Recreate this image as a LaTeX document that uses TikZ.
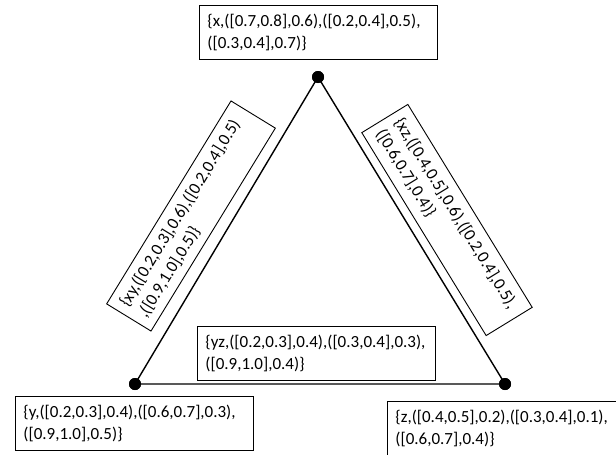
\documentclass[tikz,border=0pt]{standalone}
\usepackage{fontspec}
\setmainfont{Carlito}
\begin{document}
\begin{tikzpicture}[x=1pt,y=-1pt,
  lbl/.style={draw, line width=0.9pt, align=left, text width=222pt, inner xsep=8pt, inner ysep=0pt,
    minimum height=54pt, font=\fontsize{17}{21.5}\selectfont},
  vtx/.style={circle, fill=black, inner sep=0pt, minimum size=12pt},
  edgeline/.style={line width=1.4pt}]
\clip (0,0) rectangle (616,455);
\fill[white] (0,0) rectangle (616,455);
% vertices
\node[vtx] (X) at (318,77) {};
\node[vtx] (Y) at (135,384) {};
\node[vtx] (Z) at (505,384) {};
\draw[edgeline] (X.center) -- (Y.center) -- (Z.center) -- cycle;
\node[vtx] at (X) {};
\node[vtx] at (Y) {};
\node[vtx] at (Z) {};
% labels
\node[lbl, anchor=north west] (xbox) at (199,5) {\{x,([0.7,0.8],0.6),([0.2,0.4],0.5),\\([0.3,0.4],0.7)\}};
\node[lbl, anchor=north west] (yzbox) at (197,326) {\{yz,([0.2,0.3],0.4),([0.3,0.4],0.3),\\([0.9,1.0],0.4)\}};
\node[lbl, anchor=north west] (ybox) at (15,396) {\{y,([0.2,0.3],0.4),([0.6,0.7],0.3),\\([0.9,1.0],0.5)\}};
\node[lbl, anchor=north west] (zbox) at (387,401) {\{z,([0.4,0.5],0.2),([0.3,0.4],0.1),\\([0.6,0.7],0.4)\}};
\node[lbl, rotate=58.5, minimum height=52pt] (xybox) at (191,216) {\{xy,([0.2,0.3],0.6),([0.2,0.4],0.5)\\,([0.9,1.0],0.5)\}};
\node[lbl, rotate=-58.5] (xzbox) at (447,220) {\{xz,([0.4,0.5],0.6),([0.2,0.4],0.5),\\([0.6,0.7],0.4)\}};
\end{tikzpicture}
\end{document}
